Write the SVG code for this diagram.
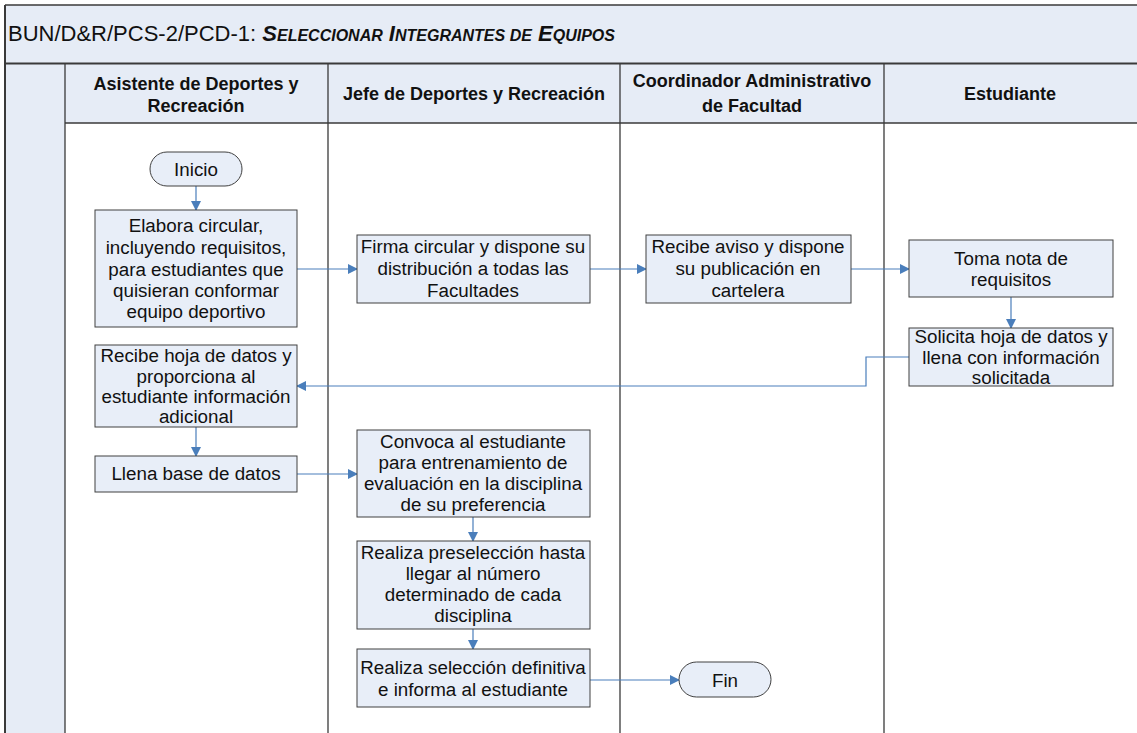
<svg xmlns="http://www.w3.org/2000/svg" width="1137" height="733" viewBox="0 0 1137 733">
<style>
.grid{stroke:#3a3a3a;stroke-width:1.3;fill:none}
.hdr{fill:#E6ECF6}
.box{fill:#E8EEF8;stroke:#404040;stroke-width:1}
.t{font-family:"Liberation Sans",Arial,sans-serif;font-size:18.8px;fill:#111;text-anchor:middle}
.h{font-family:"Liberation Sans",Arial,sans-serif;font-size:18px;font-weight:bold;fill:#111;text-anchor:middle}
.c{stroke:#4A7EBB;stroke-width:1.2;fill:none;marker-end:url(#ah)}
</style>
<defs>
<marker id="ah" markerWidth="10" markerHeight="10" refX="9" refY="5" orient="auto" markerUnits="userSpaceOnUse">
<path d="M0,0 L10,5 L0,10 z" fill="#4A7EBB"/>
</marker>
</defs>
<rect x="0" y="0" width="1137" height="733" fill="#fff"/>
<g id="frame">
<rect class="hdr" x="5" y="5" width="1132" height="58"/>
<rect class="hdr" x="5" y="64" width="1132" height="59"/>
<rect class="hdr" x="5" y="64" width="60" height="669"/>
<line class="grid" x1="5" y1="5" x2="1137" y2="5"/>
<line class="grid" x1="5" y1="5" x2="5" y2="733" style="stroke-width:2"/>
<line class="grid" x1="5" y1="63.5" x2="1137" y2="63.5" style="stroke-width:2.2"/>
<line class="grid" x1="65" y1="123" x2="1137" y2="123"/>
<line class="grid" x1="65" y1="64" x2="65" y2="733"/>
<line class="grid" x1="328" y1="64" x2="328" y2="733"/>
<line class="grid" x1="620" y1="64" x2="620" y2="733"/>
<line class="grid" x1="884" y1="64" x2="884" y2="733"/>
<text x="8" y="41" style="font-family:'Liberation Sans',Arial,sans-serif;font-size:22px;fill:#111">BUN/D&amp;R/PCS-2/PCD-1: <tspan style="font-weight:bold;font-style:italic">S<tspan font-size="16">ELECCIONAR</tspan> I<tspan font-size="16">NTEGRANTES DE</tspan> E<tspan font-size="16">QUIPOS</tspan></tspan></text>
<text class="h" x="196" y="90">Asistente de Deportes y</text>
<text class="h" x="196" y="112">Recreación</text>
<text class="h" x="474" y="100">Jefe de Deportes y Recreación</text>
<text class="h" x="752" y="87">Coordinador Administrativo</text>
<text class="h" x="752" y="112">de Facultad</text>
<text class="h" x="1010" y="100">Estudiante</text>
</g>
<g id="connectors">
<path class="c" d="M196,186 L196,210"/>
<path class="c" d="M297,269 L357,269"/>
<path class="c" d="M590,269 L646,269"/>
<path class="c" d="M851,269 L909,269"/>
<path class="c" d="M1011,297 L1011,328"/>
<path class="c" d="M909,357 L866,357 L866,386 L297,386"/>
<path class="c" d="M196,427 L196,456"/>
<path class="c" d="M297,474 L357,474"/>
<path class="c" d="M473,517 L473,541"/>
<path class="c" d="M473,629 L473,649"/>
<path class="c" d="M590,680 L679,680"/>
</g>
<g id="inicio"><rect class="box" x="150" y="152" width="92" height="34" rx="17"/><text class="t" x="196" y="176">Inicio</text></g>
<g id="elabora"><rect class="box" x="95" y="210" width="202" height="117"/>
<text class="t" x="196" y="232">Elabora circular,</text><text class="t" x="196" y="254">incluyendo requisitos,</text><text class="t" x="196" y="276">para estudiantes que</text><text class="t" x="196" y="297">quisieran conformar</text><text class="t" x="196" y="318">equipo deportivo</text></g>
<g id="firma"><rect class="box" x="357" y="235" width="233" height="68"/>
<text class="t" x="473" y="253">Firma circular y dispone su</text><text class="t" x="473" y="275">distribución a todas las</text><text class="t" x="473" y="297">Facultades</text></g>
<g id="recibe-aviso"><rect class="box" x="646" y="235" width="205" height="68"/>
<text class="t" x="748" y="253">Recibe aviso y dispone</text><text class="t" x="748" y="275">su publicación en</text><text class="t" x="748" y="297">cartelera</text></g>
<g id="toma-nota"><rect class="box" x="909" y="240" width="204" height="57"/>
<text class="t" x="1011" y="265">Toma nota de</text><text class="t" x="1011" y="286">requisitos</text></g>
<g id="solicita"><rect class="box" x="909" y="328" width="204" height="58"/>
<text class="t" x="1011" y="343">Solicita hoja de datos y</text><text class="t" x="1011" y="364">llena con información</text><text class="t" x="1011" y="384">solicitada</text></g>
<g id="recibe-hoja"><rect class="box" x="95" y="345" width="202" height="82"/>
<text class="t" x="196" y="362">Recibe hoja de datos y</text><text class="t" x="196" y="383">proporciona al</text><text class="t" x="196" y="403">estudiante información</text><text class="t" x="196" y="423">adicional</text></g>
<g id="llena"><rect class="box" x="95" y="456" width="202" height="36"/>
<text class="t" x="196" y="480">Llena base de datos</text></g>
<g id="convoca"><rect class="box" x="357" y="430" width="233" height="87"/>
<text class="t" x="473" y="448">Convoca al estudiante</text><text class="t" x="473" y="469">para entrenamiento de</text><text class="t" x="473" y="490">evaluación en la disciplina</text><text class="t" x="473" y="511">de su preferencia</text></g>
<g id="preseleccion"><rect class="box" x="357" y="541" width="233" height="88"/>
<text class="t" x="473" y="559">Realiza preselección hasta</text><text class="t" x="473" y="580">llegar al número</text><text class="t" x="473" y="601">determinado de cada</text><text class="t" x="473" y="622">disciplina</text></g>
<g id="seleccion"><rect class="box" x="357" y="649" width="233" height="58"/>
<text class="t" x="473" y="674">Realiza selección definitiva</text><text class="t" x="473" y="696">e informa al estudiante</text></g>
<g id="fin"><rect class="box" x="679" y="662" width="92" height="35" rx="17.5"/><text class="t" x="725" y="687">Fin</text></g>
</svg>
